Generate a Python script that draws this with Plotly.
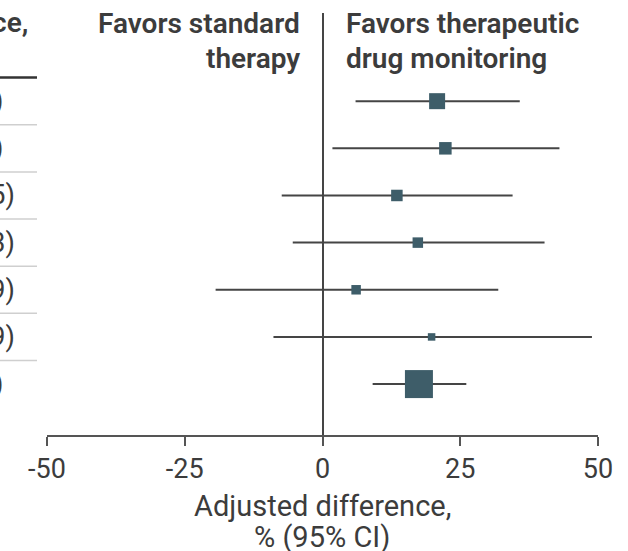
import plotly.graph_objects as go

# ---------------- data ----------------
rows = [1, 2, 3, 4, 5, 6, 7]
estimates = [20.8, 22.3, 13.5, 17.3, 6.1, 19.8, 17.5]
ci_lower = [6.0, 1.8, -7.4, -5.4, -19.4, -8.9, 9.1]
ci_upper = [35.8, 43.0, 34.5, 40.3, 31.9, 48.9, 26.1]
tick_vals = [-50, -25, 0, 25, 50]
tick_labels = ["-50", "-25", "0", "25", "50"]
header_left = ["Favors standard", "therapy"]
header_right = ["Favors therapeutic", "drug monitoring"]
axis_title = ["Adjusted difference,", "% (95% CI)"]
table_header = "Adjusted difference,<br>% (95% CI)"

# ---------------- styling ----------------
W, H = 628, 551
ML, MR, MT, MB = 47, 30, 13, 116
PW, PH = W - ML - MR, H - MT - MB
marker_sizes = [16, 12.5, 11.5, 10.5, 9.5, 7.5, 28]
SQ = "#3e5d69"
LINE = "#454545"
TXT = "#3c3c3c"
FONT = "Roboto, Noto Sans, sans-serif"


def px2x(px):
    return (px - ML) / PW


def py2y(py):
    return (MT + PH - py) / PH


fig = go.Figure()
fig.add_trace(go.Scatter(
    x=estimates, y=rows, mode="markers",
    marker=dict(symbol="square", size=marker_sizes, color=SQ, opacity=1,
                line=dict(width=0)),
    error_x=dict(type="data", symmetric=False,
                 array=[u - e for u, e in zip(ci_upper, estimates)],
                 arrayminus=[e - l for e, l in zip(estimates, ci_lower)],
                 color=LINE, thickness=2, width=0),
    hoverinfo="skip", showlegend=False,
))

anns = []


def fmt(v):
    return ("−" if v < 0 else "") + f"{abs(v):.1f}"


for r, e, lo, hi in zip(rows, estimates, ci_lower, ci_upper):
    anns.append(dict(
        text=f"{e:.1f} ({fmt(lo)} to {fmt(hi)})",
        x=px2x(17 if lo < 0 else 5), xref="paper", xanchor="right",
        y=r, yref="y", yanchor="middle", showarrow=False,
        font=dict(family=FONT, size=27, color=TXT),
    ))
anns.append(dict(
    text=table_header, align="center",
    x=px2x(30), xref="paper", xanchor="right",
    y=py2y(40), yref="paper", yanchor="middle", showarrow=False,
    font=dict(family=FONT, size=28, color=TXT, weight=600),
))
for i, (tl, tr) in enumerate(zip(header_left, header_right)):
    yc = py2y(23 + 35 * i)
    anns.append(dict(
        text=tl, x=px2x(302), xref="paper", xanchor="right",
        y=yc, yref="paper", yanchor="middle", showarrow=False,
        font=dict(family=FONT, size=28, color=TXT, weight=600),
    ))
    anns.append(dict(
        text=tr, x=px2x(344), xref="paper", xanchor="left",
        y=yc, yref="paper", yanchor="middle", showarrow=False,
        font=dict(family=FONT, size=28, color=TXT, weight=600),
    ))
for i, t in enumerate(axis_title):
    anns.append(dict(
        text=t, x=px2x(322), xref="paper", xanchor="center",
        y=py2y(506 + 31 * i), yref="paper", yanchor="middle", showarrow=False,
        font=dict(family=FONT, size=29, color=TXT),
    ))

shapes = [dict(type="line", xref="paper", yref="y", x0=px2x(0), x1=px2x(37),
               y0=0.5, y1=0.5, line=dict(color="#333333", width=2.5))]
for r in rows[:-1]:
    shapes.append(dict(type="line", xref="paper", yref="y", x0=px2x(0), x1=px2x(37),
                       y0=r + 0.5, y1=r + 0.5, line=dict(color="#cfcfcf", width=1.5)))

fig.update_layout(
    width=W, height=H,
    margin=dict(l=ML, r=MR, t=MT, b=MB, autoexpand=False),
    paper_bgcolor="white", plot_bgcolor="white",
    annotations=anns, shapes=shapes,
    xaxis=dict(range=[-50, 50], tickvals=tick_vals, ticktext=tick_labels,
               showgrid=False, zeroline=True, zerolinecolor=LINE, zerolinewidth=2,
               showline=True, linecolor="#555555", linewidth=2,
               ticks="outside", ticklen=9, tickwidth=2, tickcolor="#555555",
               tickfont=dict(family=FONT, size=27, color=TXT), fixedrange=True),
    yaxis=dict(range=[8.08, -0.87], visible=False, showgrid=False,
               zeroline=False, fixedrange=True),
    font=dict(family=FONT),
)

fig.write_html("out.html", config={"displayModeBar": False},
               post_script="document.body.style.margin='0';")
